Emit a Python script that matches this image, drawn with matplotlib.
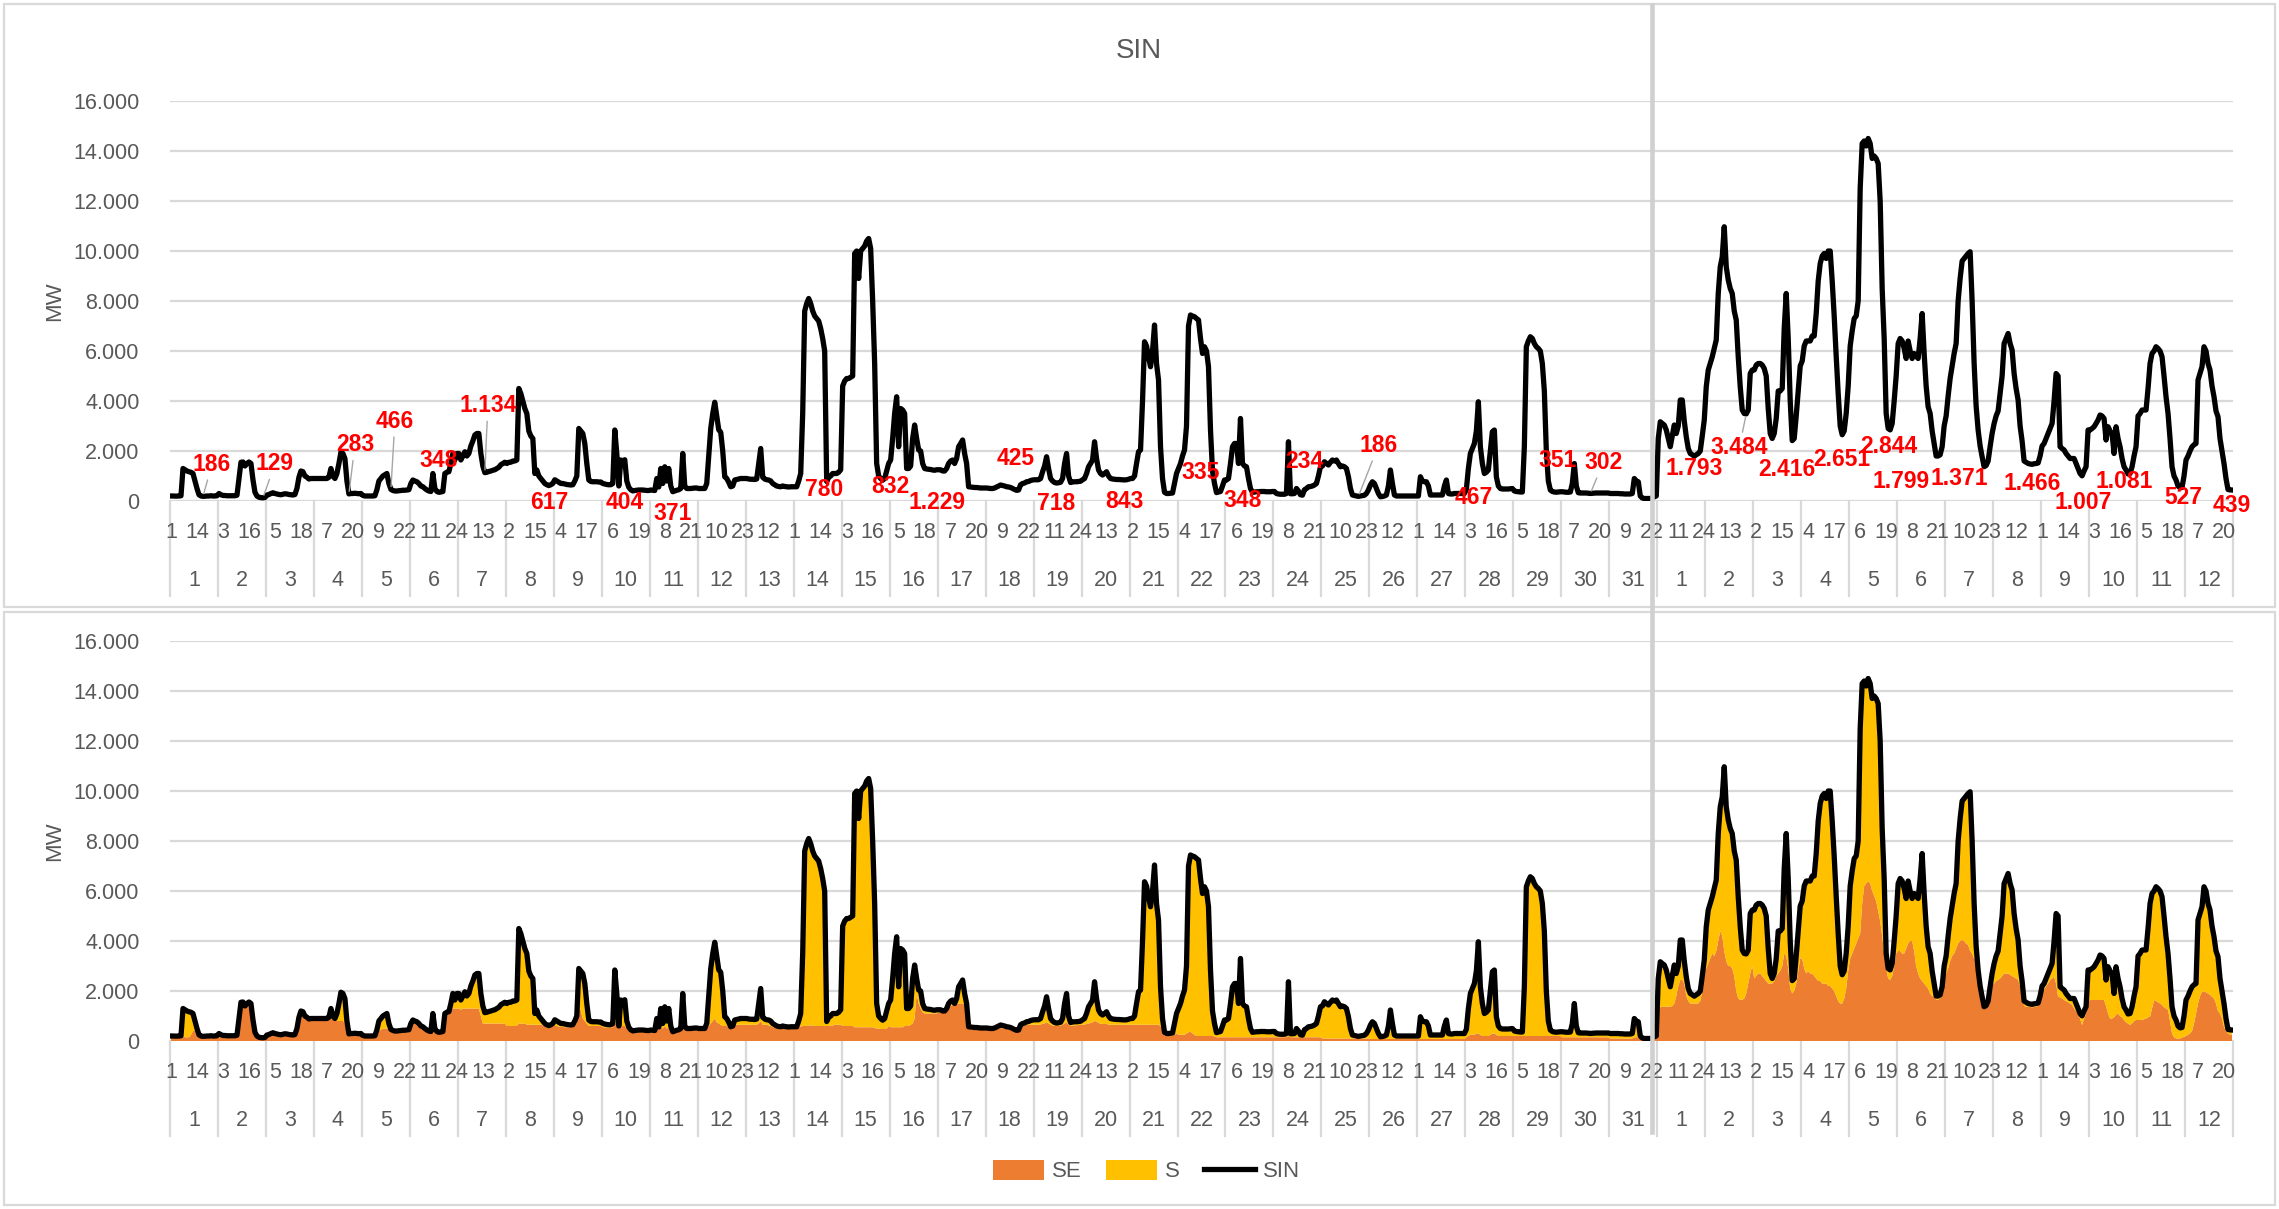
import numpy as np
import matplotlib.pyplot as plt
from matplotlib.lines import Line2D
from matplotlib.patches import Patch, Rectangle
from matplotlib.transforms import blended_transform_factory

plt.rcParams['font.family'] = ['Liberation Sans', 'DejaVu Sans']

# hourly SIN load (MW), first month, one row per day
sin_m1 = [
    [200, 200, 195, 195, 200, 210, 1300, 1250, 1200, 1170, 1150, 1100, 800, 500, 250, 200, 186, 190, 200, 200, 210, 200, 200, 210],
    [300, 250, 220, 220, 210, 210, 210, 210, 210, 230, 900, 1550, 1560, 1400, 1500, 1560, 1500, 850, 350, 200, 150, 135, 129, 140],
    [240, 260, 300, 330, 300, 280, 260, 250, 270, 290, 280, 260, 250, 240, 260, 500, 950, 1200, 1170, 1000, 950, 880, 900, 900],
    [900, 900, 900, 900, 900, 900, 900, 950, 1300, 1000, 900, 1100, 1500, 1950, 1900, 1700, 800, 283, 300, 300, 310, 300, 290, 300],
    [220, 200, 200, 200, 200, 200, 210, 450, 800, 900, 1000, 1050, 1100, 700, 466, 420, 400, 400, 410, 420, 430, 430, 440, 450],
    [700, 840, 800, 770, 700, 600, 570, 500, 440, 400, 380, 1100, 500, 380, 348, 360, 380, 1100, 1150, 1170, 1500, 1900, 1640, 1900],
    [1900, 1640, 1800, 1970, 1800, 1900, 2200, 2400, 2640, 2700, 2700, 1900, 1400, 1134, 1150, 1180, 1200, 1230, 1250, 1300, 1350, 1450, 1500, 1550],
    [1500, 1550, 1550, 1600, 1600, 1640, 4500, 4300, 4000, 3700, 3500, 2800, 2600, 2500, 1100, 1240, 1000, 900, 800, 700, 650, 617, 650, 700],
    [850, 800, 750, 700, 700, 680, 660, 650, 640, 650, 800, 1000, 2900, 2800, 2700, 2300, 1500, 840, 780, 770, 770, 770, 760, 760],
    [700, 680, 660, 650, 650, 700, 2840, 1900, 600, 1640, 1600, 1650, 800, 550, 450, 404, 420, 430, 440, 440, 440, 430, 420, 420],
    [440, 430, 420, 900, 560, 1300, 700, 1370, 800, 1300, 600, 371, 400, 430, 450, 500, 1900, 600, 500, 500, 500, 510, 520, 520],
    [500, 500, 500, 500, 700, 1800, 2900, 3500, 3950, 3400, 2850, 2750, 2000, 970, 900, 750, 570, 600, 840, 860, 880, 900, 900, 900],
    [900, 880, 870, 870, 860, 880, 1500, 2100, 950, 880, 850, 840, 800, 700, 650, 600, 580, 570, 600, 580, 570, 560, 570, 570],
    [570, 570, 800, 1100, 3500, 7600, 7900, 8100, 7900, 7600, 7400, 7300, 7200, 6900, 6500, 6000, 780, 950, 1000, 1100, 1100, 1100, 1150, 1250],
    [4600, 4800, 4900, 4900, 4950, 5000, 9900, 10000, 8900, 10000, 10100, 10200, 10400, 10500, 10100, 8000, 5500, 1500, 1000, 900, 832, 900, 1200, 1500],
    [1640, 2500, 3500, 4170, 2170, 3700, 3640, 3500, 1300, 1300, 1400, 2500, 3040, 2500, 2040, 2000, 1500, 1300, 1280, 1270, 1260, 1240, 1229, 1250],
    [1250, 1250, 1200, 1200, 1300, 1500, 1600, 1640, 1500, 1700, 2170, 2300, 2440, 1900, 1500, 570, 560, 550, 540, 540, 530, 520, 520, 520],
    [520, 510, 500, 500, 520, 560, 600, 640, 620, 600, 570, 560, 540, 500, 460, 425, 440, 650, 700, 720, 770, 780, 820, 840],
    [850, 850, 850, 900, 1170, 1400, 1770, 1300, 900, 800, 740, 718, 730, 750, 900, 1500, 1900, 1000, 740, 760, 770, 770, 780, 790],
    [850, 900, 1100, 1370, 1500, 1640, 2370, 1700, 1240, 1100, 1040, 1100, 1170, 1000, 900, 880, 870, 860, 860, 855, 850, 843, 850, 870],
    [900, 900, 1000, 1500, 1970, 2040, 4000, 6370, 6200, 5770, 5370, 6000, 7040, 5500, 4840, 2170, 900, 350, 300, 300, 310, 320, 700, 1100],
    [1300, 1500, 1800, 2040, 3000, 7000, 7440, 7400, 7370, 7300, 7240, 6500, 5900, 6170, 6000, 5370, 2840, 1200, 700, 335, 360, 380, 600, 840],
    [840, 900, 1500, 2170, 2300, 2300, 1500, 3300, 1500, 1400, 1370, 900, 500, 348, 360, 370, 370, 380, 380, 380, 370, 370, 370, 380],
    [380, 300, 280, 270, 270, 270, 300, 2370, 290, 290, 300, 500, 400, 250, 234, 450, 500, 570, 580, 600, 640, 700, 1000, 1370],
    [1400, 1570, 1500, 1440, 1550, 1640, 1600, 1640, 1500, 1370, 1400, 1370, 1300, 970, 500, 240, 220, 200, 186, 200, 210, 230, 300, 440],
    [640, 770, 700, 500, 300, 170, 180, 200, 240, 600, 1240, 700, 240, 200, 200, 200, 200, 200, 200, 200, 200, 200, 200, 200],
    [200, 970, 800, 770, 770, 600, 240, 240, 240, 240, 240, 240, 240, 600, 840, 300, 280, 280, 300, 300, 300, 300, 300, 300],
    [467, 1300, 1900, 2100, 2300, 2800, 3970, 2170, 1500, 1100, 1150, 1240, 2000, 2770, 2840, 970, 600, 500, 480, 480, 480, 480, 490, 500],
    [400, 380, 370, 360, 360, 2170, 6170, 6400, 6570, 6500, 6300, 6170, 6100, 6000, 5500, 4400, 2000, 800, 440, 380, 360, 351, 360, 370],
    [370, 360, 350, 350, 360, 700, 1500, 600, 330, 320, 320, 320, 320, 310, 302, 310, 315, 320, 320, 320, 320, 320, 320, 320],
    [300, 300, 300, 300, 300, 290, 290, 280, 280, 280, 280, 300, 900, 800, 770, 200, 120, 100, 100, 100, 100, 120, 170, 200],
]

# SE share of the load (MW), first month
se_m1 = [
    [150, 150, 150, 150, 150, 150, 200, 150, 150, 150, 250, 400, 400, 350, 200, 150, 150, 150, 150, 150, 150, 150, 150, 150],
    [150, 150, 150, 150, 150, 150, 150, 150, 150, 200, 850, 1450, 1450, 1300, 1400, 1450, 1400, 750, 250, 150, 100, 100, 100, 100],
    [200, 200, 220, 230, 220, 200, 200, 200, 200, 200, 200, 200, 200, 200, 220, 450, 900, 1050, 1000, 900, 850, 800, 820, 820],
    [850, 850, 850, 850, 850, 850, 850, 850, 900, 850, 800, 800, 800, 800, 800, 700, 500, 200, 200, 200, 200, 200, 200, 200],
    [150, 150, 150, 150, 150, 150, 150, 300, 400, 450, 500, 500, 500, 450, 350, 350, 350, 350, 350, 350, 350, 350, 350, 350],
    [650, 780, 750, 700, 650, 550, 520, 450, 400, 350, 340, 800, 400, 340, 300, 320, 340, 900, 1000, 1100, 1300, 1300, 1300, 1300],
    [1300, 1250, 1300, 1300, 1300, 1300, 1300, 1300, 1300, 1300, 1300, 1000, 700, 700, 700, 700, 700, 700, 700, 700, 700, 700, 700, 700],
    [600, 600, 600, 600, 600, 600, 700, 700, 700, 700, 650, 650, 650, 650, 650, 650, 650, 650, 620, 600, 580, 560, 580, 600],
    [600, 600, 580, 570, 560, 550, 550, 550, 550, 560, 600, 700, 1600, 1200, 900, 800, 700, 600, 600, 600, 600, 600, 600, 600],
    [550, 550, 540, 530, 530, 550, 700, 650, 500, 600, 600, 600, 500, 420, 380, 350, 360, 370, 380, 380, 380, 370, 360, 360],
    [380, 380, 380, 500, 450, 600, 500, 600, 500, 550, 450, 320, 350, 380, 400, 420, 800, 450, 420, 420, 420, 430, 440, 440],
    [420, 420, 420, 420, 500, 600, 700, 800, 900, 750, 700, 650, 600, 600, 600, 560, 500, 520, 650, 650, 650, 650, 650, 650],
    [650, 650, 650, 650, 650, 650, 700, 800, 650, 650, 650, 620, 600, 550, 520, 500, 500, 500, 500, 500, 500, 490, 490, 490],
    [550, 550, 560, 580, 600, 600, 600, 620, 620, 620, 600, 600, 600, 600, 600, 600, 600, 600, 620, 620, 650, 650, 650, 650],
    [600, 600, 600, 600, 600, 600, 550, 550, 550, 550, 550, 550, 550, 550, 550, 550, 520, 500, 500, 480, 480, 480, 500, 600],
    [550, 550, 550, 550, 550, 550, 550, 600, 600, 600, 650, 700, 900, 1900, 1500, 1300, 1150, 1100, 1100, 1100, 1100, 1100, 1100, 1100],
    [1150, 1150, 1150, 1150, 1200, 1300, 1400, 1450, 1400, 1450, 1500, 1500, 1500, 1500, 1200, 500, 480, 460, 450, 450, 450, 440, 440, 440],
    [440, 440, 430, 430, 440, 470, 500, 520, 510, 500, 480, 470, 460, 440, 400, 380, 400, 560, 600, 620, 640, 650, 650, 650],
    [650, 650, 650, 650, 700, 700, 750, 700, 650, 620, 600, 600, 600, 620, 650, 700, 750, 650, 620, 620, 630, 630, 640, 640],
    [650, 660, 680, 700, 720, 750, 800, 780, 720, 700, 680, 680, 680, 660, 650, 650, 650, 650, 650, 650, 650, 650, 650, 660],
    [650, 650, 650, 650, 650, 650, 650, 650, 650, 650, 650, 650, 650, 650, 650, 600, 500, 200, 200, 200, 200, 200, 250, 300],
    [250, 250, 250, 250, 300, 350, 370, 300, 250, 200, 200, 200, 200, 200, 200, 200, 200, 200, 180, 150, 150, 150, 150, 150],
    [150, 150, 150, 150, 150, 150, 150, 150, 150, 150, 150, 150, 150, 150, 150, 150, 150, 150, 150, 150, 150, 150, 150, 150],
    [150, 150, 150, 150, 150, 150, 150, 200, 150, 150, 150, 150, 150, 150, 150, 150, 150, 150, 150, 150, 150, 150, 150, 150],
    [100, 100, 100, 100, 100, 100, 100, 100, 100, 100, 100, 100, 100, 100, 100, 100, 100, 100, 100, 100, 100, 100, 100, 100],
    [80, 80, 80, 80, 80, 80, 80, 80, 80, 80, 80, 80, 80, 80, 80, 80, 80, 80, 80, 80, 80, 80, 80, 80],
    [80, 80, 80, 80, 80, 80, 80, 80, 80, 80, 80, 80, 80, 80, 80, 80, 80, 80, 80, 80, 80, 80, 80, 80],
    [150, 200, 250, 250, 250, 300, 300, 250, 200, 200, 200, 200, 250, 300, 300, 250, 200, 200, 200, 200, 200, 200, 200, 200],
    [200, 200, 200, 200, 200, 200, 200, 200, 200, 200, 200, 200, 200, 200, 200, 200, 200, 200, 200, 200, 200, 200, 200, 200],
    [150, 150, 150, 150, 150, 150, 150, 150, 150, 150, 150, 150, 150, 150, 150, 150, 150, 150, 150, 150, 150, 150, 150, 150],
    [100, 100, 100, 100, 100, 100, 100, 100, 100, 100, 100, 100, 150, 150, 150, 100, 80, 80, 80, 80, 80, 80, 80, 100],
]

# hourly SIN load (MW), second month
sin_m2 = [
    [2500, 3170, 3100, 3040, 2840, 2500, 2170, 2600, 3040, 2700, 3000, 4040, 4040, 3200, 2570, 2100, 1900, 1850, 1793, 1850, 1900, 2000, 2600, 3240],
    [4570, 5240, 5500, 5770, 6100, 6440, 8300, 9370, 9770, 10970, 9370, 8840, 8500, 8300, 7600, 7240, 5770, 4570, 3640, 3500, 3484, 3640, 5100, 5240],
    [5240, 5440, 5500, 5500, 5440, 5300, 5000, 3700, 2700, 2500, 2700, 3300, 4400, 4400, 4500, 6900, 8300, 6500, 4000, 2416, 2500, 3400, 4400, 5400],
    [5600, 6200, 6400, 6400, 6400, 6600, 6600, 7500, 8800, 9500, 9800, 9900, 9700, 10000, 10000, 8800, 7400, 5800, 4300, 3000, 2651, 2800, 3500, 4600],
    [6200, 6800, 7300, 7400, 8000, 12500, 14300, 14400, 14200, 14500, 14300, 13700, 13800, 13700, 13500, 12000, 8500, 6500, 3500, 2900, 2844, 3100, 4000, 5000],
    [6300, 6500, 6400, 6100, 5700, 6400, 6000, 5700, 5900, 5800, 5700, 6500, 7500, 5900, 4600, 3770, 3500, 2800, 2300, 1799, 1800, 1850, 2170, 3000],
    [3400, 4200, 4900, 5400, 5900, 6300, 8000, 8900, 9600, 9700, 9800, 9900, 9970, 8000, 5500, 3800, 2840, 2200, 1770, 1371, 1420, 1600, 2170, 2700],
    [3100, 3400, 3600, 4300, 5000, 6300, 6500, 6700, 6300, 6040, 5100, 4500, 4040, 3000, 2400, 1600, 1550, 1500, 1480, 1466, 1490, 1500, 1520, 1800],
    [2200, 2300, 2500, 2700, 2900, 3100, 4000, 5100, 5000, 2170, 2100, 2040, 1900, 1800, 1700, 1700, 1700, 1500, 1300, 1100, 1007, 1200, 1370, 2840],
    [2840, 2900, 2970, 3100, 3240, 3440, 3400, 3300, 2440, 2970, 2800, 2700, 1900, 2970, 2500, 2170, 1700, 1370, 1240, 1081, 1100, 1370, 1800, 2170],
    [3400, 3500, 3640, 3640, 3640, 4500, 5500, 5900, 6000, 6170, 6100, 6000, 5770, 5000, 4170, 3500, 2500, 1370, 1000, 840, 600, 527, 540, 1000],
    [1640, 1800, 2000, 2170, 2250, 2300, 4840, 5100, 5370, 6170, 6000, 5500, 5240, 4600, 4170, 3600, 3370, 2500, 2000, 1500, 900, 460, 445, 439],
]

# SE share of the load (MW), second month
se_m2 = [
    [1200, 1350, 1370, 1370, 1370, 1370, 1370, 1400, 1500, 1800, 2200, 2440, 2440, 2300, 1800, 1600, 1500, 1500, 1500, 1500, 1500, 1600, 2000, 2800],
    [2900, 3100, 3300, 3500, 3400, 3600, 4000, 4400, 4200, 3600, 3200, 3000, 3000, 2900, 2600, 2000, 1700, 1650, 1650, 1700, 1900, 2300, 2700, 3000],
    [2500, 2600, 2700, 2700, 2600, 2500, 2400, 2300, 2300, 2300, 2400, 2600, 2700, 2800, 3000, 3500, 3400, 2900, 2100, 1900, 2000, 2300, 2800, 3300],
    [3300, 2900, 2700, 2800, 2700, 2700, 2600, 2500, 2400, 2400, 2300, 2300, 2300, 2200, 2200, 2100, 2000, 1800, 1600, 1500, 1500, 1700, 2100, 2800],
    [3300, 3500, 3700, 3900, 4100, 4300, 5500, 6200, 6300, 6400, 6300, 6000, 5800, 5600, 5200, 4800, 4200, 3500, 2900, 2500, 2450, 2600, 3000, 3500],
    [3600, 3600, 3500, 3500, 3700, 3900, 4000, 4000, 3600, 3000, 2700, 2500, 2400, 2300, 2200, 2100, 1900, 1800, 1750, 1650, 1650, 1700, 2000, 2500],
    [2700, 2900, 3200, 3400, 3500, 3700, 3900, 4000, 4040, 4000, 3900, 3840, 3600, 3500, 3300, 3240, 2440, 2000, 1700, 1300, 1350, 1500, 2000, 2300],
    [2300, 2400, 2450, 2500, 2600, 2700, 2700, 2700, 2650, 2600, 2550, 2500, 2450, 2200, 1900, 1400, 1380, 1370, 1360, 1350, 1360, 1380, 1400, 1700],
    [2000, 2040, 2200, 2300, 2440, 2500, 2570, 2300, 1770, 1750, 1700, 1640, 1600, 1550, 1500, 1450, 1300, 1200, 1100, 900, 640, 900, 1100, 1600],
    [1640, 1640, 1640, 1640, 1640, 1640, 1640, 1640, 1400, 1100, 900, 900, 950, 1050, 1100, 1000, 950, 840, 750, 700, 640, 700, 800, 840],
    [840, 840, 850, 870, 900, 950, 970, 1300, 1640, 1600, 1550, 1500, 1450, 1350, 1300, 1240, 800, 300, 150, 100, 100, 100, 130, 170],
    [200, 250, 300, 400, 700, 1100, 1500, 1800, 1970, 1970, 1950, 1900, 1850, 1770, 1700, 1500, 1200, 1100, 900, 570, 400, 300, 260, 240],
]

days_m1 = list(range(1, 32))
days_m2 = list(range(1, 13))
hours = list(range(1, 25))
yticks = list(range(0, 16001, 2000))

# value labels: (month, day, hour, dx px, dy px, leader line)
labels = [
    (1, 1, 17, 9, 32, True), (1, 2, 23, 12, 34, True), (1, 4, 18, 6, 49, True),
    (1, 5, 15, 4, 68, True), (1, 6, 15, 0, 32, False), (1, 7, 14, 3, 67, True),
    (1, 8, 22, 0, -17, False), (1, 10, 16, -8, -12, False), (1, 11, 12, 0, -22, False),
    (1, 14, 17, -3, -8, False), (1, 15, 21, 8, -6, False), (1, 16, 23, 2, -32, False),
    (1, 18, 16, -1, 32, False), (1, 19, 12, 0, -20, False), (1, 20, 22, 0, -22, False),
    (1, 22, 20, -16, 20, False), (1, 23, 14, -10, -8, False), (1, 24, 15, 2, 34, False),
    (1, 25, 19, 20, 51, True), (1, 28, 1, 7, -8, False), (1, 29, 22, 1, 32, False),
    (1, 30, 15, 13, 31, True),
    (2, 1, 19, 0, -12, False), (2, 2, 21, -7, -34, True), (2, 3, 20, -5, -29, False),
    (2, 4, 21, 0, -25, False), (2, 5, 21, -1, -17, False), (2, 6, 20, -35, -25, False),
    (2, 7, 20, -25, -12, False), (2, 8, 20, 0, -19, False), (2, 9, 21, 1, -27, False),
    (2, 10, 20, -4, -8, False), (2, 11, 22, 3, -10, False), (2, 12, 24, 0, -15, False),
]

SE_COLOR = '#ED7D31'
S_COLOR = '#FFC000'
GRID = '#d9d9d9'
TXT = '#595959'
LINE_W = 3.8

sin = np.concatenate([np.array(sin_m1, float).ravel(), np.array(sin_m2, float).ravel()])
se = np.concatenate([np.array(se_m1, float).ravel(), np.array(se_m2, float).ravel()])
s = np.clip(sin - se, 0, None)
n = len(sin)
x = np.arange(n)
all_days = days_m1 + days_m2


def fmt(v):
    return f'{int(round(v)):,}'.replace(',', '.')


def point_index(month, day, hour):
    offset = 0 if month == 1 else len(days_m1) * 24
    return offset + (day - 1) * 24 + (hour - 1)


W, H = 2279, 1209
fig = plt.figure(figsize=(W / 100, H / 100), dpi=100)
ax1 = fig.add_axes([170 / W, 1 - 501 / H, 2063 / W, 400 / H])
ax2 = fig.add_axes([170 / W, 1 - 1041 / H, 2063 / W, 400 / H])


def style(ax):
    ax.set_xlim(-0.5, n - 0.5)
    ax.set_ylim(0, 16000)
    ax.set_yticks(yticks)
    ax.set_yticklabels([fmt(v) for v in yticks])
    ax.set_xticks([])
    for sp in ax.spines.values():
        sp.set_visible(False)
    ax.tick_params(axis='y', length=0, labelsize=15.5, labelcolor=TXT, pad=22)
    ax.grid(axis='y', color=GRID, lw=1.6, zorder=0)
    ax.set_axisbelow(True)
    tr = blended_transform_factory(ax.transData, ax.transAxes)
    for i in range(0, n, 13):
        ax.text(i, -0.079, str(hours[i % 24]), transform=tr, ha='center', va='center',
                fontsize=15.5, color=TXT)
    for k, d in enumerate(all_days):
        ax.text(k * 24 + 11.5, -0.198, str(d), transform=tr, ha='center', va='center',
                fontsize=15.5, color=TXT)
    for k in range(len(all_days) + 1):
        ax.plot([k * 24 - 0.5] * 2, [0, -0.2375], transform=tr, color=GRID, lw=1.6,
                clip_on=False)
    fig.text(55 / W, ax.get_position().y0 + ax.get_position().height / 2, 'MW',
             rotation=90, ha='center', va='center', fontsize=16, color=TXT)


style(ax1)
style(ax2)

# top: SIN line with value labels
ax1.plot(x, sin, color='black', lw=LINE_W, solid_joinstyle='round', zorder=3)
for m, d, h, dx, dy, leader in labels:
    i = point_index(m, d, h)
    arrow = dict(arrowstyle='-', color='#a6a6a6', lw=1.0, shrinkA=1, shrinkB=2) if leader else None
    ax1.annotate(fmt(sin[i]), xy=(i, sin[i]), xytext=(dx, dy), textcoords='offset pixels',
                 ha='center', va='center', fontsize=16.5, fontweight='bold', color='#FF0000',
                 arrowprops=arrow, zorder=5, annotation_clip=False)

# bottom: SE + S stacked areas under the SIN line
ax2.stackplot(x, se, s, colors=[SE_COLOR, S_COLOR], lw=0, zorder=2)
ax2.plot(x, sin, color='black', lw=LINE_W, solid_joinstyle='round', zorder=3)

fig.text(1139 / W, 1 - 51 / H, 'SIN', ha='center', va='center', fontsize=20, color=TXT)

handles = [Patch(fc=SE_COLOR), Patch(fc=S_COLOR), Line2D([], [], color='black', lw=LINE_W)]
fig.legend(handles, ['SE', 'S', 'SIN'], loc='center', bbox_to_anchor=(0.503, 1 - 1171 / H),
           ncol=3, frameon=False, fontsize=16, handlelength=2.3, handleheight=1.0,
           columnspacing=1.1, handletextpad=0.35, labelcolor=TXT)

# panel frames and month divider
fig.add_artist(Rectangle((4 / W, 1 - 607 / H), 2271 / W, 603 / H, transform=fig.transFigure,
                         fill=False, ec=GRID, lw=1.6))
fig.add_artist(Rectangle((4 / W, 1 - 1205 / H), 2271 / W, 593 / H, transform=fig.transFigure,
                         fill=False, ec=GRID, lw=1.6))
fig.add_artist(Line2D([1652 / W] * 2, [1 - 5 / H, 1 - 1132 / H], transform=fig.transFigure,
                      color='#d0d0d0', lw=3.3, zorder=10))

fig.savefig('out.png', dpi=100)
